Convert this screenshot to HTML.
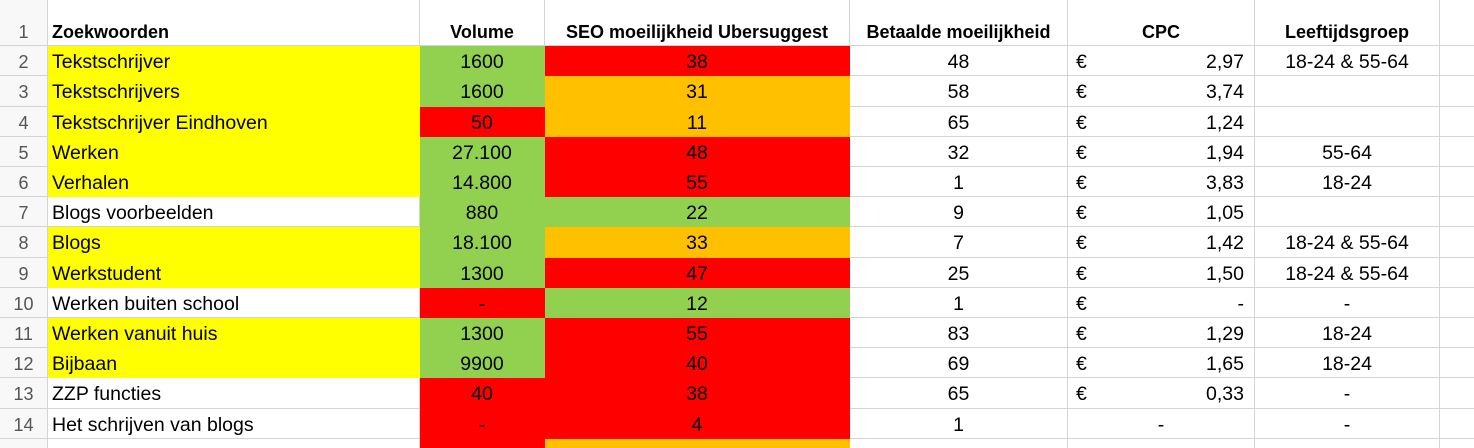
<!DOCTYPE html>
<html><head><meta charset="utf-8"><style>
body{margin:0;width:1474px;height:448px;overflow:hidden;background:#fff;font-family:"Liberation Sans",sans-serif;}
#sheet{position:relative;width:1474px;height:448px;overflow:hidden;}
.c{position:absolute;box-sizing:border-box;border-right:1px solid #d4d4d4;border-bottom:1px solid #d4d4d4;font-size:19.5px;color:#000;line-height:32px;white-space:nowrap;overflow:hidden;padding:0 4px;}
.rh{background:#f8f8f8;color:#555;text-align:center;font-size:18px;}
.b{font-weight:bold;font-size:18px;}
</style></head><body>
<div id="sheet"></div>
<script>
const keywords=["Tekstschrijver","Tekstschrijvers","Tekstschrijver Eindhoven","Werken","Verhalen","Blogs voorbeelden","Blogs","Werkstudent","Werken buiten school","Werken vanuit huis","Bijbaan","ZZP functies","Het schrijven van blogs",""];
const kwColor=["y","y","y","y","y","w","y","y","w","y","y","w","w","w"];
const volume=["1600","1600","50","27.100","14.800","880","18.100","1300","-","1300","9900","40","-",""];
const volColor=["g","g","r","g","g","g","g","g","r","g","g","r","r","r"];
const seo=["38","31","11","48","55","22","33","47","12","55","40","38","4",""];
const seoColor=["r","o","o","r","r","g","o","r","g","r","r","r","r","o"];
const paid=["48","58","65","32","1","9","7","25","1","83","69","65","1",""];
const cpc=["2,97","3,74","1,24","1,94","3,83","1,05","1,42","1,50","-","1,29","1,65","0,33","-",""];
const age=["18-24 & 55-64","","","55-64","18-24","","18-24 & 55-64","18-24 & 55-64","-","18-24","18-24","-","-",""];
const headers=["Zoekwoorden","Volume","SEO moeilijkheid Ubersuggest","Betaalde moeilijkheid","CPC","Leeftijdsgroep",""];
const colX=[0,48,420,545,850,1068,1255,1440,1480];
const colors={y:"#ffff00",w:"#ffffff",g:"#92d050",r:"#ff0000",o:"#ffc000"};
const rowTop=i=>16+i*30.2;
const S=document.getElementById('sheet');
function cell(ci,ri,txt,cls,align,bg,name){
  const d=document.createElement('div');
  d.className='c '+(cls||'');
  d.style.left=colX[ci]+'px';d.style.width=(colX[ci+1]-colX[ci])+'px';
  const t=rowTop(ri);d.style.top=t+'px';d.style.height=(rowTop(ri+1)-t)+'px';
  d.style.textAlign=align||'left';
  if(bg){d.style.background=bg;d.style.borderColor=bg;}
  d.textContent=txt;
  
  
  S.appendChild(d);return d;
}
for(let ci=0;ci<8;ci++){
  const d=document.createElement('div');d.className='c'+(ci==0?' rh':'');
  d.style.left=colX[ci]+'px';d.style.width=(colX[ci+1]-colX[ci])+'px';d.style.top='0px';d.style.height='16px';
  d.style.borderBottom='none';
  
  
  S.appendChild(d);
}
cell(0,0,"1","rh","center",null,'row-number');
headers.forEach((h,i)=>{cell(i+1,0,h,"b",i==0?"left":"center",null,'header-cell');});
for(let r=0;r<14;r++){
  const ri=r+1;
  cell(0,ri,String(ri+1),"rh","center",null,'row-number');
  cell(1,ri,keywords[r],"","left",kwColor[r]=="w"?null:colors[kwColor[r]],'keyword-cell');
  cell(2,ri,volume[r],"","center",colors[volColor[r]],'volume-cell');
  cell(3,ri,seo[r],"","center",colors[seoColor[r]],'seo-cell');
  cell(4,ri,paid[r],"","center",null,'paid-difficulty-cell');
  const c=cell(5,ri,"","","right",null,'cpc-cell');
  if(cpc[r]!==""){
    if(r===12){c.style.textAlign='center';c.textContent='-';}
    else{
      c.style.paddingRight='10px';
      const e=document.createElement('span');e.textContent='€';e.style.position='absolute';e.style.left='8px';
      c.appendChild(e);
      c.appendChild(document.createTextNode(cpc[r]));
    }
  }
  cell(6,ri,age[r],"","center",null,'age-group-cell');
  cell(7,ri,"","","left",null,'empty-cell');
}
</script>
</body></html>
